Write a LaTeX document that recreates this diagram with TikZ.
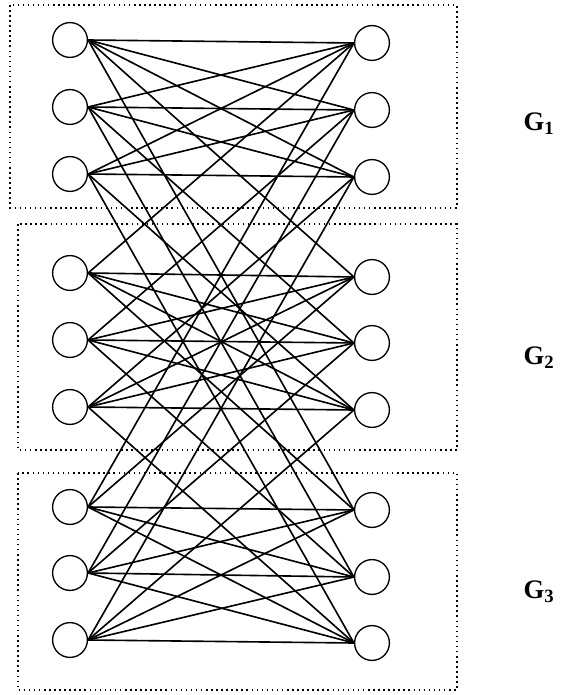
\documentclass[tikz,border=0pt]{standalone}
\usepackage{fontspec}
\setmainfont{Liberation Serif}
\usepackage{tikz}
\begin{document}
\begin{tikzpicture}[x=0.025cm,y=-0.025cm]
\tikzstyle{every node}+=[inner sep=0pt]
\tikzstyle{unit}=[draw,circle,minimum size=0.87cm,line width=0.95pt]
\tikzstyle{group}=[line width=1.1pt,dash pattern=on 1.1pt off 2.5pt]
\tikzstyle{link}=[line width=1.15pt]
\useasboundingbox (0,0) rectangle (560,695);
% dotted groups
\draw [group] (10,5) rectangle (457,208);
\draw [group] (18,224) rectangle (457,450);
\draw [group] (18,473) rectangle (457,690);
% units
\foreach \n/\yl/\yr in {1/40/43,2/107/110,3/174/177,4/273/277,5/340/343,6/407/410,7/507/510,8/573/577,9/640/643} {
  \node [unit] (l\n) at (70,\yl) {};
  \node [unit] (r\n) at (372,\yr) {};
}
% links inside the groups
\foreach \a in {1,2,3} \foreach \b in {1,2,3} \draw [link] (l\a.east) -- (r\b.west);
\foreach \a in {4,5,6} \foreach \b in {4,5,6} \draw [link] (l\a.east) -- (r\b.west);
\foreach \a in {7,8,9} \foreach \b in {7,8,9} \draw [link] (l\a.east) -- (r\b.west);
% links between the groups (same place in the other groups)
\foreach \a/\b in {1/4,1/7,2/5,2/8,3/6,3/9,4/1,4/7,5/2,5/8,6/3,6/9,7/1,7/4,8/2,8/5,9/3,9/6}
  \draw [link] (l\a.east) -- (r\b.west);
% labels
\node (g1) at (539,124) {\fontsize{19}{20}\selectfont\bfseries G\textsubscript{1}};
\node (g2) at (539,358) {\fontsize{19}{20}\selectfont\bfseries G\textsubscript{2}};
\node (g3) at (539,592) {\fontsize{19}{20}\selectfont\bfseries G\textsubscript{3}};
\end{tikzpicture}
\end{document}
